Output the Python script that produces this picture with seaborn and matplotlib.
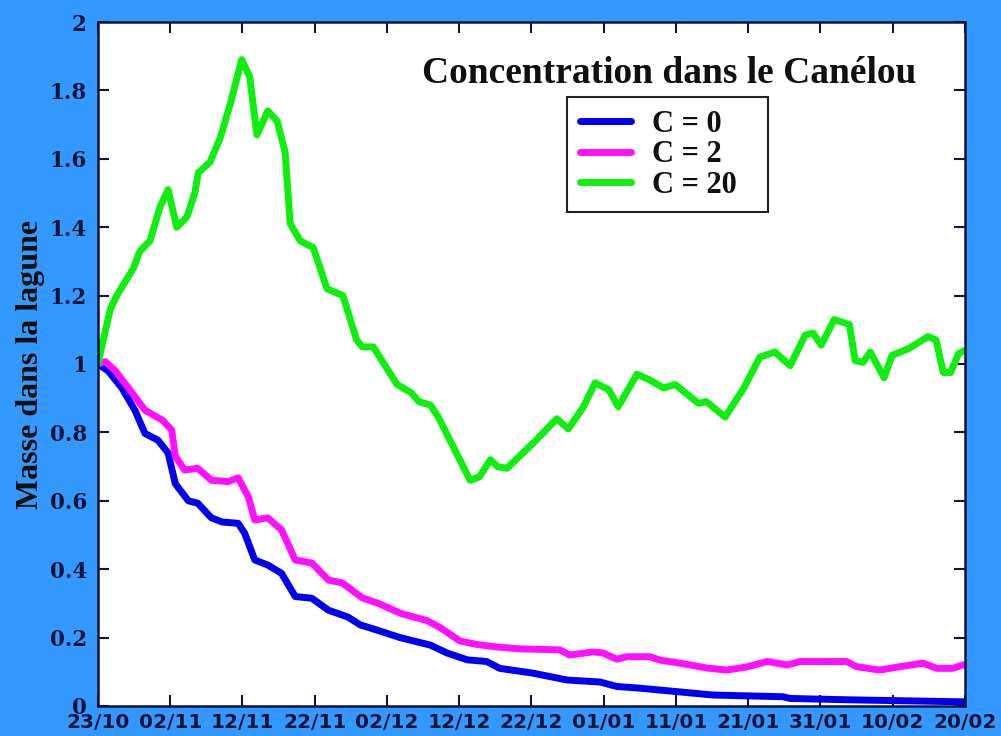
import pandas as pd
import matplotlib
matplotlib.use("Agg")
import matplotlib.pyplot as plt
import matplotlib.dates as mdates
import seaborn as sns

# days after 23/10
start = pd.Timestamp("2008-10-23")

green_days = [0, 0.3, 1.7, 2.6, 4.9, 5.8, 7.2, 8.6, 9.7, 10.9, 12.3, 13.4, 13.9, 15.5,
              16.9, 18.3, 19.9, 21.0, 22.0, 23.5, 24.8, 25.9, 26.6, 28.0, 29.8, 31.7,
              33.9, 35.8, 36.6, 38.1, 41.4, 43.4, 44.4, 46.0, 47.1, 51.5, 52.8, 54.3,
              55.3, 56.6, 60.3, 63.5, 65.1, 67.2, 68.8, 70.7, 72.0, 74.6, 76.2, 78.3,
              79.9, 83.1, 84.2, 86.8, 89.4, 91.6, 93.7, 95.8, 97.9, 99.0, 100.1, 101.9,
              104.0, 104.8, 105.9, 106.9, 108.8, 109.9, 112.2, 114.9, 116.0, 117.0,
              118.0, 119.1, 120]
green_vals = [1.0, 1.03, 1.16, 1.20, 1.28, 1.33, 1.36, 1.46, 1.51, 1.40, 1.43, 1.50, 1.56,
              1.59, 1.66, 1.76, 1.89, 1.84, 1.67, 1.74, 1.71, 1.62, 1.41, 1.36, 1.34, 1.22,
              1.20, 1.07, 1.05, 1.05, 0.94, 0.915, 0.89, 0.88, 0.845, 0.66, 0.67, 0.72,
              0.70, 0.695, 0.77, 0.84, 0.81, 0.875, 0.945, 0.925, 0.875, 0.97, 0.955, 0.93,
              0.94, 0.885, 0.89, 0.845, 0.93, 1.02, 1.035, 0.995, 1.085, 1.09, 1.055, 1.13,
              1.115, 1.01, 1.005, 1.035, 0.96, 1.025, 1.045, 1.08, 1.07, 0.975,
              0.975, 1.03, 1.04]

magenta_days = [0, 1.0, 2.4, 4.2, 6.5, 8.9, 10.2, 10.7, 12.0, 13.8, 15.7, 18.0, 19.4, 20.8,
                21.7, 23.5, 25.4, 27.3, 29.6, 31.9, 33.8, 36.6, 38.8, 42.0, 45.5, 47.3,
                50.1, 52.4, 55.0, 58.4, 63.9, 65.3, 68.5, 69.9, 71.8, 73.2, 76.4, 77.8,
                80.6, 84.3, 87.0, 89.8, 92.6, 95.4, 97.2, 103.6, 105.0, 108.2, 111.0,
                114.2, 116.1, 118.3, 119.7, 120]
magenta_vals = [1.0, 1.007, 0.98, 0.93, 0.865, 0.836, 0.807, 0.73, 0.69, 0.695, 0.66, 0.656,
                0.667, 0.612, 0.544, 0.55, 0.515, 0.427, 0.418, 0.368, 0.36, 0.316, 0.30,
                0.27, 0.25, 0.23, 0.19, 0.18, 0.173, 0.167, 0.164, 0.149, 0.158, 0.155,
                0.137, 0.144, 0.144, 0.134, 0.125, 0.111, 0.105, 0.114, 0.13, 0.12, 0.13,
                0.13, 0.115, 0.105, 0.115, 0.125, 0.11, 0.11, 0.12, 0.12]

blue_days = [0, 1.4, 3.3, 5.1, 6.5, 8.3, 9.7, 10.7, 12.5, 13.8, 15.7, 17.2, 19.4, 20.3,
             21.7, 23.5, 25.4, 27.3, 29.6, 31.9, 34.6, 36.3, 38.6, 41.8, 46.0, 48.3,
             51.1, 53.8, 55.6, 60.2, 64.9, 69.5, 71.8, 75.0, 80.1, 85.1, 94.8, 95.8,
             104.0, 120]
blue_vals = [1.0, 0.98, 0.93, 0.865, 0.797, 0.777, 0.74, 0.65, 0.60, 0.593, 0.55, 0.538,
             0.534, 0.505, 0.427, 0.412, 0.388, 0.32, 0.315, 0.28, 0.26, 0.237, 0.222,
             0.20, 0.178, 0.155, 0.135, 0.13, 0.11, 0.096, 0.076, 0.07, 0.057, 0.052,
             0.042, 0.032, 0.027, 0.022, 0.018, 0.012]

series = [
    ("C = 0", blue_days, blue_vals, "#0000ee"),
    ("C = 2", magenta_days, magenta_vals, "#ff10ff"),
    ("C = 20", green_days, green_vals, "#10ee10"),
]

tick_dates = pd.date_range(start, periods=13, freq="10D")
y_ticks = [0, 0.2, 0.4, 0.6, 0.8, 1, 1.2, 1.4, 1.6, 1.8, 2]
y_labels = ["0", "0.2", "0.4", "0.6", "0.8", "1", "1.2", "1.4", "1.6", "1.8", "2"]

sns.set_theme(style="ticks")
ink = "#14143a"
serif = ["Liberation Serif", "DejaVu Serif"]

fig = plt.figure(figsize=(10.01, 7.36), dpi=100, facecolor="#3399ff")
ax = fig.add_axes([0.0979, 0.0408, 0.8661, 0.9293])
ax.set_facecolor("white")

for name, days, vals, color in series:
    df = pd.DataFrame({"date": start + pd.to_timedelta(days, unit="D"), "val": vals})
    sns.lineplot(data=df, x="date", y="val", ax=ax, color=color, linewidth=5,
                 label=name, solid_joinstyle="round", solid_capstyle="round")

ax.set_xlim(tick_dates[0], tick_dates[-1])
ax.set_ylim(0, 2)
ax.set_xticks(tick_dates)
ax.xaxis.set_major_formatter(mdates.DateFormatter("%d/%m"))
ax.set_yticks(y_ticks)
ax.set_yticklabels(y_labels)

for s in ax.spines.values():
    s.set_visible(True)
    s.set_color(ink)
    s.set_linewidth(1.8)

ax.tick_params(direction="in", length=8, width=1.5, color=ink, top=True, right=True)
ax.tick_params(axis="x", pad=5, labelsize=14.5, labelcolor=ink)
ax.tick_params(axis="y", pad=8, labelsize=15.5, labelcolor=ink)
for lab in ax.get_xticklabels():
    lab.set_fontfamily(["DejaVu Sans"])
    lab.set_fontweight("bold")
for lab in ax.get_yticklabels():
    lab.set_fontfamily(["DejaVu Serif"])
    lab.set_fontweight("bold")

ax.set_xlabel("")
ax.set_ylabel("Masse dans la lagune", fontsize=23, fontweight="bold",
              family=serif, color="#101010", labelpad=3)

ax.text(0.374, 0.911, "Concentration dans le Canélou", transform=ax.transAxes,
        fontsize=27, fontweight="bold", family=serif, color="#101010", va="baseline")

# legend box stretched to the reference width
leg = ax.legend(loc="upper left", bbox_to_anchor=(0.541, 0.725, 0.232, 0.165),
                mode="expand", borderaxespad=0,
                frameon=True, fancybox=False, edgecolor="#222222", framealpha=1,
                handlelength=1.67, handletextpad=0.69, labelspacing=0.04,
                borderpad=0.42, prop={"family": serif, "size": 22, "weight": "bold"})
leg.get_frame().set_linewidth(1.5)
for line in leg.get_lines():
    line.set_linewidth(5)
for t in leg.get_texts():
    t.set_color("#101010")

fig.savefig("out.png", dpi=100, facecolor=fig.get_facecolor())
